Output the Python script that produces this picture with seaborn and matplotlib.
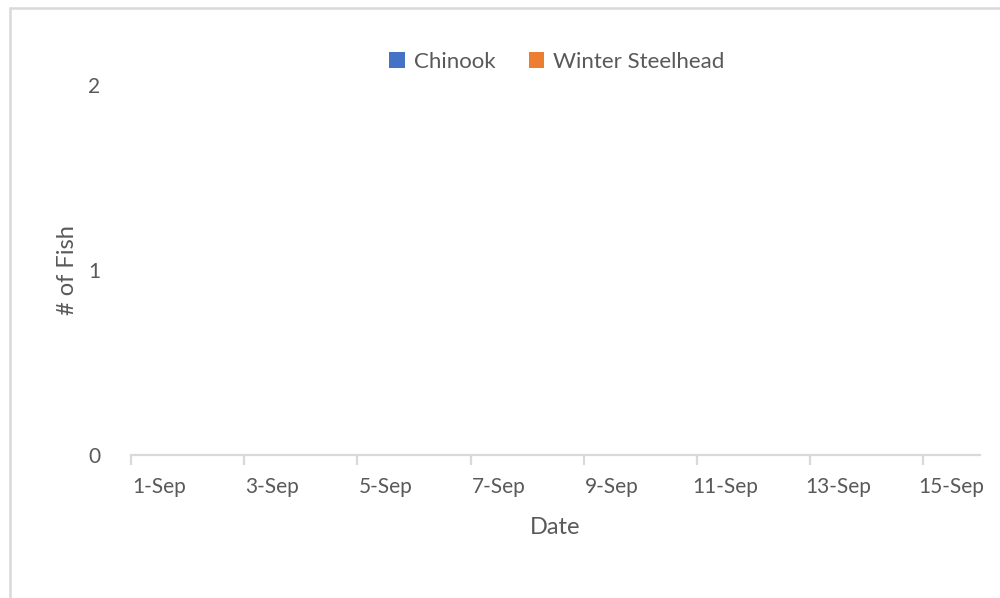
import matplotlib
matplotlib.use("Agg")
import matplotlib.pyplot as plt
from matplotlib.lines import Line2D
from matplotlib.patches import Patch
import pandas as pd
import seaborn as sns

# Data (no fish counted in this period)
dates = ["1-Sep", "2-Sep", "3-Sep", "4-Sep", "5-Sep", "6-Sep", "7-Sep", "8-Sep",
         "9-Sep", "10-Sep", "11-Sep", "12-Sep", "13-Sep", "14-Sep", "15-Sep"]
chinook = [0, 0, 0, 0, 0, 0, 0, 0, 0, 0, 0, 0, 0, 0, 0]
winter_steelhead = [0, 0, 0, 0, 0, 0, 0, 0, 0, 0, 0, 0, 0, 0, 0]
y_ticks = [0, 1, 2]

blue = "#4472C4"
orange = "#ED7D31"
text_grey = "#595959"

sns.set_theme(style="white")
plt.rcParams["font.family"] = ["Lato", "DejaVu Sans"]

df = pd.DataFrame({
    "Date": dates * 2,
    "Fish": chinook + winter_steelhead,
    "Species": ["Chinook"] * len(dates) + ["Winter Steelhead"] * len(dates),
})

fig = plt.figure(figsize=(10, 5.98), dpi=100)
ax = fig.add_axes([0.131, 0.2391, 0.849, 0.6188])

sns.barplot(data=df, x="Date", y="Fish", hue="Species",
            palette=[blue, orange], ax=ax, legend=False)

ax.set_xlim(-0.5, len(dates) - 0.5)
ax.set_ylim(0, 2)
ax.set_yticks(y_ticks)
ax.set_yticklabels([str(v) for v in y_ticks], fontsize=15, color=text_grey)
ax.tick_params(axis="y", length=0, pad=22)

# tick marks at category boundaries every 2 days, labels on the day
ax.set_xticks([i - 0.5 for i in range(0, len(dates), 2)])
ax.set_xticklabels([])
ax.tick_params(axis="x", which="major", bottom=True, length=7, width=1.6,
               color="#D9D9D9", direction="out")
ax.set_xticks(range(0, len(dates), 2), minor=True)
ax.set_xticklabels(dates[::2], minor=True, fontsize=15, color=text_grey)
ax.tick_params(axis="x", which="minor", bottom=True, length=0, pad=16)

for side in ["top", "right", "left"]:
    ax.spines[side].set_visible(False)
ax.spines["bottom"].set_color("#D9D9D9")
ax.spines["bottom"].set_linewidth(1.6)

ax.set_xlabel("")
ax.set_ylabel("")
fig.text(0.555, 1 - 528 / 598, "Date", ha="center", va="center",
         fontsize=17, color=text_grey)
fig.text(0.068, 1 - 270 / 598, "# of Fish", ha="center", va="center",
         rotation=90, fontsize=17, color=text_grey)

handles = [Patch(facecolor=blue, edgecolor="none"),
           Patch(facecolor=orange, edgecolor="none")]
fig.legend(handles, ["Chinook", "Winter Steelhead"], loc="center",
           bbox_to_anchor=(0.557, 1 - 62 / 598), ncol=2, frameon=False,
           fontsize=16, handlelength=0.7, handleheight=0.7,
           handletextpad=0.4, columnspacing=1.5, labelcolor=text_grey)

# chart area border
fig.add_artist(Line2D([0.0095, 1.0], [1 - 8 / 598, 1 - 8 / 598],
                      color="#D9D9D9", lw=1.8, transform=fig.transFigure))
fig.add_artist(Line2D([0.0095, 0.0095], [0, 1 - 8 / 598],
                      color="#D9D9D9", lw=1.8, transform=fig.transFigure))

fig.savefig("out.png", dpi=100)
